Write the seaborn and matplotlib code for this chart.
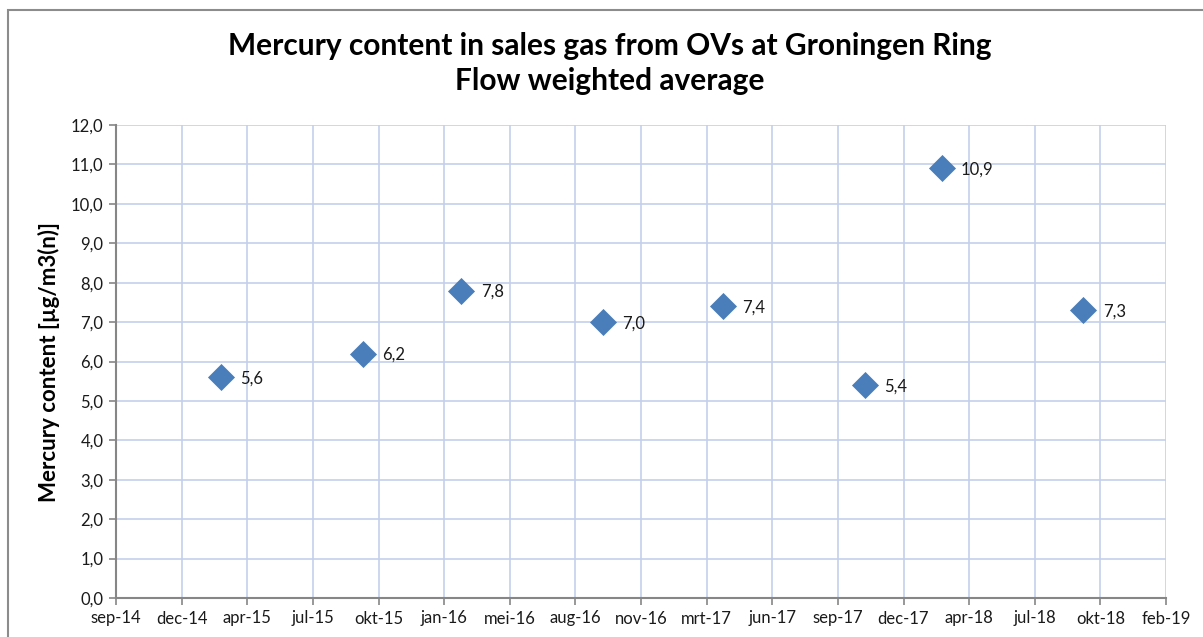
import pandas as pd
import seaborn as sns
import numpy as np
import matplotlib.pyplot as plt
import matplotlib.patches as patches

# sample dates (approx) and flow weighted Hg content
dates = ["2015-02-25", "2015-09-29", "2016-02-26", "2016-09-29",
         "2017-03-31", "2017-11-02", "2018-02-27", "2018-10-01"]
mercury = [5.6, 6.2, 7.8, 7.0, 7.4, 5.4, 10.9, 7.3]

tick_start = "2014-09-18"
tick_labels = ["sep-14", "dec-14", "apr-15", "jul-15", "okt-15", "jan-16", "mei-16",
               "aug-16", "nov-16", "mrt-17", "jun-17", "sep-17", "dec-17", "apr-18",
               "jul-18", "okt-18", "feb-19"]
y_ticks = np.arange(0, 12.5, 1.0)

df = pd.DataFrame({"date": pd.to_datetime(dates), "mercury": mercury})
xticks = pd.date_range(start=tick_start, periods=len(tick_labels), freq="100D")

sns.set_style("white")
plt.rcParams['font.family'] = ['Lato', 'DejaVu Sans']

fig = plt.figure(figsize=(12.03, 6.37), dpi=100)
ax = fig.add_axes([116 / 1203, 1 - 598 / 637, (1166 - 116) / 1203, (598 - 125) / 637])

sns.scatterplot(data=df, x="date", y="mercury", marker="D", s=190,
                color="#4A7EBB", edgecolor="#4A7EBB", linewidth=0, zorder=3, ax=ax)

for d, v in zip(df["date"], df["mercury"]):
    ax.annotate(f"{v:.1f}".replace(".", ","), (d, v), xytext=(14, -1),
                textcoords="offset points", va="center", ha="left",
                fontsize=12, color="#1a1a1a")

ax.set_xlim(xticks[0], xticks[-1])
ax.set_ylim(0, 12)
ax.set_xticks(xticks)
ax.set_xticklabels(tick_labels, fontsize=12)
ax.set_yticks(y_ticks)
ax.set_yticklabels([f"{t:.1f}".replace(".", ",") for t in y_ticks], fontsize=12)

ax.grid(True, color="#C3D0EA", linewidth=1.2)
ax.set_axisbelow(True)
for side in ["top", "right"]:
    ax.spines[side].set_visible(False)
for side in ["left", "bottom"]:
    ax.spines[side].set_color("#868686")
    ax.spines[side].set_linewidth(1.5)
ax.tick_params(axis="both", which="major", direction="out", length=5, width=1.2,
               color="#868686", labelcolor="#1a1a1a", bottom=True, left=True, pad=4)

ax.set_xlabel("")
ax.set_ylabel("Mercury content [µg/m3(n)]", fontsize=16, fontweight="bold",
              labelpad=8, color="black")

fig.text(0.507, 0.90, "Mercury content in sales gas from OVs at Groningen Ring\nFlow weighted average",
         ha="center", va="center", fontsize=21.5, fontweight="bold", linespacing=1.3,
         color="black")

# chart area border (cut off at right and bottom like the screenshot)
fig.patches.append(patches.Rectangle((8 / 1203, -0.05), 1.1, 1 - 10 / 637 + 0.05,
                                     transform=fig.transFigure, fill=False,
                                     edgecolor="#8C8C8C", linewidth=1.5))

fig.savefig("out.png", dpi=100)
